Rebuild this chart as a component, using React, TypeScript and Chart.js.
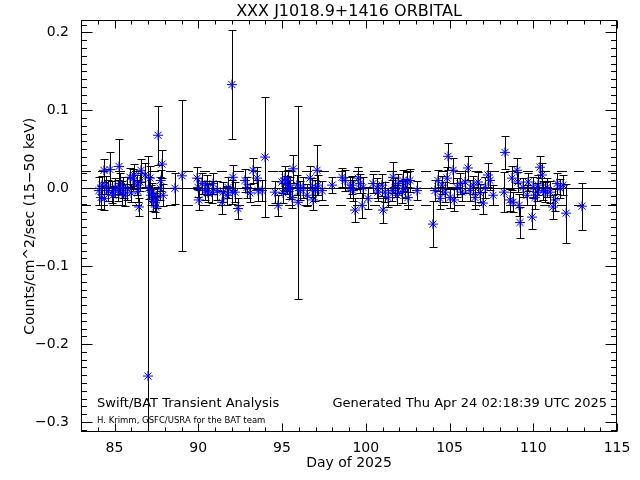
import React, { useEffect, useRef } from "react";
import { Chart, registerables } from "chart.js";

Chart.register(...registerables);

// ---------- text ----------
const TITLE = "XXX J1018.9+1416 ORBITAL";
const X_LABEL = "Day of 2025";
const Y_LABEL = "Counts/cm^2/sec (15\u221250 keV)";
const NOTE_LEFT = "Swift/BAT Transient Analysis";
const NOTE_RIGHT = "Generated Thu Apr 24 02:18:39 UTC 2025";
const CREDIT = "H. Krimm, GSFC/USRA for the BAT team";

// ---------- axes ----------
const X_MIN = 83;
const X_MAX = 115;
const Y_MIN = -0.3128;
const Y_MAX = 0.2154;
const X_TICKS = [85, 90, 95, 100, 105, 110, 115];
const Y_TICKS = [-0.3, -0.2, -0.1, 0.0, 0.1, 0.2];
const X_MINOR_STEP = 1;
const Y_MINOR_STEP = 0.01;

// ---------- reference levels ----------
const ZERO_LEVEL = 0.0;
const UPPER_LEVEL = 0.022;
const LOWER_LEVEL = -0.022;

// ---------- data (day, rate, 1-sigma error) ----------
const days = [
  84.07, 84.19, 84.25, 84.37, 84.40, 84.49, 84.61, 84.73, 84.85, 84.91,
  85.03, 85.21, 85.27, 85.33, 85.45, 85.51, 85.63, 85.75, 85.93, 85.99,
  86.10, 86.16, 86.34, 86.40, 86.46, 86.52, 86.58, 86.82, 87.00, 87.04,
  87.12, 87.18, 87.24, 87.30, 87.42, 87.46, 87.52, 87.60, 87.72, 87.76,
  87.84, 87.90, 88.61, 89.03, 89.93, 89.99, 90.03, 90.22, 90.40, 90.52,
  90.58, 90.82, 90.88, 91.12, 91.42, 91.48, 91.72, 91.78, 92.01, 92.04,
  92.07, 92.19, 92.37, 92.79, 92.91, 93.09, 93.27, 93.51, 93.57, 93.81,
  93.99, 94.58, 94.76, 95.00, 95.06, 95.18, 95.30, 95.36, 95.42, 95.48,
  95.60, 95.66, 95.90, 95.96, 96.07, 96.25, 96.49, 96.67, 96.79, 96.85,
  96.97, 97.09, 97.15, 97.39, 97.99, 98.58, 98.76, 99.06, 99.18, 99.24,
  99.36, 99.54, 99.66, 99.78, 99.84, 100.13, 100.43, 100.67, 100.73, 100.97,
  101.03, 101.15, 101.33, 101.57, 101.63, 101.75, 101.87, 101.93, 102.16, 102.22,
  102.34, 102.46, 102.52, 102.64, 103.06, 104.01, 104.13, 104.31, 104.43, 104.55,
  104.73, 104.85, 104.91, 105.03, 105.21, 105.27, 105.45, 105.63, 105.75, 105.93,
  106.10, 106.22, 106.40, 106.52, 106.70, 106.82, 107.00, 107.12, 107.30, 107.42,
  107.60, 108.25, 108.31, 108.61, 108.73, 108.79, 109.03, 109.09, 109.15, 109.21,
  109.39, 109.63, 109.69, 109.93, 109.99, 110.10, 110.22, 110.28, 110.40, 110.52,
  110.58, 110.70, 110.82, 111.00, 111.18, 111.30, 111.42, 111.60, 111.78, 111.96,
  112.91,
];

const rates = [
  -0.003, -0.012, 0.004, 0.023, -0.013, 0.004, -0.003, 0.024, -0.005, -0.009,
  0.001, -0.003, 0.028, 0.006, -0.006, 0.001, -0.009, 0.000, 0.014, -0.006,
  0.012, 0.017, 0.004, -0.004, -0.024, 0.008, 0.023, 0.017, -0.241, 0.000,
  0.013, -0.009, -0.005, -0.015, -0.018, -0.024, -0.012, 0.068, 0.000, 0.010,
  0.031, -0.009, 0.000, 0.016, 0.013, 0.001, -0.015, 0.006, -0.003, 0.004,
  -0.006, -0.005, 0.006, -0.003, -0.018, -0.005, -0.009, 0.001, 0.133, -0.005,
  0.014, -0.005, -0.026, 0.010, 0.001, -0.006, 0.023, 0.013, -0.003, -0.003,
  0.040, -0.005, -0.022, 0.008, -0.006, 0.013, 0.004, 0.010, -0.002, 0.000,
  -0.012, 0.025, 0.004, -0.018, -0.003, 0.001, -0.009, 0.013, 0.001, -0.015,
  -0.003, 0.023, 0.004, -0.003, 0.004, 0.014, 0.010, 0.001, 0.004, -0.003,
  -0.028, 0.013, 0.006, -0.022, 0.001, -0.013, 0.006, 0.000, -0.005, 0.004,
  -0.028, -0.005, -0.012, -0.003, 0.014, 0.001, -0.009, 0.006, -0.005, 0.010,
  0.000, 0.008, -0.012, 0.010, -0.003, -0.046, -0.003, 0.010, -0.013, 0.004,
  -0.005, 0.013, 0.041, -0.012, 0.023, -0.015, 0.001, 0.006, -0.005, 0.008,
  0.026, -0.003, 0.004, -0.012, 0.008, -0.006, -0.019, 0.001, 0.017, 0.010,
  -0.009, -0.005, 0.046, -0.015, 0.013, -0.018, 0.023, 0.008, -0.022, -0.044,
  0.001, -0.009, 0.008, -0.037, 0.001, -0.012, -0.005, 0.004, 0.027, 0.017,
  -0.003, -0.005, 0.001, -0.005, -0.024, -0.015, 0.006, 0.000, 0.004, -0.032,
  -0.023,
];

const errors = [
  0.018, 0.015, 0.012, 0.015, 0.015, 0.012, 0.013, 0.022, 0.014, 0.012,
  0.012, 0.014, 0.035, 0.013, 0.015, 0.013, 0.014, 0.015, 0.012, 0.012,
  0.013, 0.014, 0.013, 0.014, 0.012, 0.012, 0.015, 0.016, 0.283, 0.014,
  0.015, 0.013, 0.012, 0.014, 0.012, 0.014, 0.013, 0.038, 0.015, 0.014,
  0.018, 0.014, 0.020, 0.097, 0.014, 0.012, 0.013, 0.014, 0.012, 0.013,
  0.012, 0.014, 0.013, 0.012, 0.015, 0.013, 0.012, 0.014, 0.070, 0.015,
  0.016, 0.013, 0.014, 0.015, 0.013, 0.012, 0.016, 0.014, 0.013, 0.014,
  0.077, 0.014, 0.013, 0.014, 0.013, 0.015, 0.012, 0.013, 0.012, 0.014,
  0.013, 0.018, 0.013, 0.124, 0.012, 0.013, 0.014, 0.015, 0.012, 0.013,
  0.014, 0.032, 0.013, 0.012, 0.010, 0.012, 0.014, 0.013, 0.012, 0.014,
  0.015, 0.014, 0.012, 0.016, 0.013, 0.014, 0.012, 0.013, 0.012, 0.014,
  0.016, 0.013, 0.012, 0.013, 0.020, 0.012, 0.013, 0.012, 0.014, 0.013,
  0.012, 0.013, 0.014, 0.015, 0.012, 0.030, 0.014, 0.013, 0.014, 0.012,
  0.013, 0.014, 0.017, 0.013, 0.016, 0.014, 0.012, 0.013, 0.012, 0.014,
  0.015, 0.013, 0.012, 0.014, 0.013, 0.012, 0.014, 0.013, 0.015, 0.012,
  0.013, 0.026, 0.021, 0.014, 0.015, 0.013, 0.016, 0.013, 0.014, 0.020,
  0.012, 0.013, 0.012, 0.015, 0.013, 0.014, 0.012, 0.013, 0.014, 0.015,
  0.012, 0.013, 0.012, 0.014, 0.015, 0.014, 0.013, 0.012, 0.013, 0.038,
  0.030,
];

const FONT = '"DejaVu Sans", "Liberation Sans", sans-serif';

const idlPlugin = {
  id: "idlFrame",
  beforeDatasetsDraw(chart: any) {
    const { ctx, chartArea: a, scales } = chart;
    const x = scales.x;
    const y = scales.y;
    ctx.save();
    ctx.beginPath();
    ctx.rect(a.left, a.top, a.right - a.left, a.bottom - a.top);
    ctx.clip();
    ctx.strokeStyle = "#000";
    ctx.lineWidth = 1;

    const hline = (v: number, dash: number[]) => {
      const py = Math.round(y.getPixelForValue(v)) + 0.5;
      ctx.setLineDash(dash);
      ctx.beginPath();
      ctx.moveTo(a.left, py);
      ctx.lineTo(a.right, py);
      ctx.stroke();
    };
    hline(ZERO_LEVEL, []);
    hline(UPPER_LEVEL, [10, 7]);
    hline(LOWER_LEVEL, [10, 7]);
    ctx.setLineDash([]);

    // error bars
    for (let i = 0; i < days.length; i++) {
      const px = Math.round(x.getPixelForValue(days[i])) + 0.5;
      const top = Math.round(y.getPixelForValue(rates[i] + errors[i])) + 0.5;
      const bot = Math.round(y.getPixelForValue(rates[i] - errors[i])) + 0.5;
      ctx.beginPath();
      ctx.moveTo(px, top);
      ctx.lineTo(px, bot);
      ctx.moveTo(px - 4, top);
      ctx.lineTo(px + 4, top);
      ctx.moveTo(px - 4, bot);
      ctx.lineTo(px + 4, bot);
      ctx.stroke();
    }
    ctx.restore();
  },
  afterDraw(chart: any) {
    const { ctx, chartArea: a, scales } = chart;
    const x = scales.x;
    const y = scales.y;
    ctx.save();
    ctx.strokeStyle = "#000";
    ctx.lineWidth = 1;
    const L = Math.round(a.left) + 0.5;
    const R = Math.round(a.right) - 0.5;
    const T = Math.round(a.top) + 0.5;
    const B = Math.round(a.bottom) - 0.5;
    ctx.strokeRect(L, T, R - L, B - T);

    ctx.beginPath();
    for (let d = Math.ceil(X_MIN); d <= X_MAX; d += X_MINOR_STEP) {
      const major = X_TICKS.includes(d);
      const len = major ? 8 : 4;
      const px = Math.round(x.getPixelForValue(d)) + 0.5;
      ctx.moveTo(px, B);
      ctx.lineTo(px, B - len);
      ctx.moveTo(px, T);
      ctx.lineTo(px, T + len);
    }
    const kMin = Math.ceil(Y_MIN / Y_MINOR_STEP - 1e-9);
    const kMax = Math.floor(Y_MAX / Y_MINOR_STEP + 1e-9);
    for (let k = kMin; k <= kMax; k++) {
      const v = k * Y_MINOR_STEP;
      const major = k % 10 === 0;
      const len = major ? 11 : 5.5;
      const py = Math.round(y.getPixelForValue(v)) + 0.5;
      ctx.moveTo(L, py);
      ctx.lineTo(L + len, py);
      ctx.moveTo(R, py);
      ctx.lineTo(R - len, py);
    }
    ctx.stroke();

    ctx.fillStyle = "#000";
    ctx.textBaseline = "middle";
    const cx = (a.left + a.right) / 2;
    ctx.textAlign = "center";
    ctx.font = `16px ${FONT}`;
    ctx.fillText(TITLE, cx, 12);
    ctx.font = `14px ${FONT}`;
    ctx.fillText(X_LABEL, cx, 463);

    ctx.save();
    ctx.translate(30, (a.top + a.bottom) / 2);
    ctx.rotate(-Math.PI / 2);
    ctx.fillText(Y_LABEL, 0, 0);
    ctx.restore();

    ctx.font = `13px ${FONT}`;
    ctx.textAlign = "left";
    ctx.fillText(NOTE_LEFT, 97, 404);
    ctx.textAlign = "right";
    ctx.fillText(NOTE_RIGHT, 607, 404);
    ctx.textAlign = "left";
    ctx.font = `8.5px ${FONT}`;
    ctx.fillText(CREDIT, 97, 421);
    ctx.restore();
  },
};

const fmtY = (v: number) => {
  if (Math.abs(v) < 1e-9) return "0.0";
  const s = Math.abs(v).toFixed(1);
  return v < 0 ? "\u2212" + s : s;
};

export default function App() {
  const ref = useRef<HTMLCanvasElement | null>(null);

  useEffect(() => {
    if (!ref.current) return;
    const points = days.map((d, i) => ({ x: d, y: rates[i] }));
    const chart = new Chart(ref.current, {
      type: "scatter",
      data: {
        datasets: [
          {
            data: points,
            pointStyle: "star",
            pointRadius: 5,
            pointHoverRadius: 5,
            borderColor: "#0000ff",
            backgroundColor: "#0000ff",
            borderWidth: 1,
            showLine: false,
          },
        ],
      },
      options: {
        animation: false,
        responsive: false,
        devicePixelRatio: 1,
        events: [],
        layout: { padding: { top: 20, right: 23, left: 0, bottom: 0 } },
        plugins: {
          legend: { display: false },
          tooltip: { enabled: false },
          title: { display: false },
        },
        scales: {
          x: {
            type: "linear",
            position: "bottom",
            min: X_MIN,
            max: X_MAX,
            afterBuildTicks: (axis: any) => {
              axis.ticks = X_TICKS.map((v) => ({ value: v }));
            },
            afterFit: (s: any) => {
              s.height = 48;
            },
            grid: { display: false, drawTicks: false },
            border: { display: false },
            ticks: {
              autoSkip: false,
              maxRotation: 0,
              padding: 8,
              color: "#000",
              font: { family: FONT, size: 14 },
              callback: (v: any) => String(v),
            },
          },
          y: {
            type: "linear",
            position: "left",
            min: Y_MIN,
            max: Y_MAX,
            afterBuildTicks: (axis: any) => {
              axis.ticks = Y_TICKS.map((v) => ({ value: v }));
            },
            afterFit: (s: any) => {
              s.width = 81;
            },
            grid: { display: false, drawTicks: false },
            border: { display: false },
            ticks: {
              autoSkip: false,
              padding: 12,
              color: "#000",
              font: { family: FONT, size: 14 },
              callback: (v: any) => fmtY(Number(v)),
            },
          },
        },
      },
      plugins: [idlPlugin],
    });
    return () => chart.destroy();
  }, []);

  return (
    <div
      style={{
        position: "absolute",
        left: 0,
        top: 0,
        width: 640,
        height: 480,
        background: "#fff",
      }}
    >
      <canvas ref={ref} width={640} height={480} style={{ display: "block" }} />
    </div>
  );
}
